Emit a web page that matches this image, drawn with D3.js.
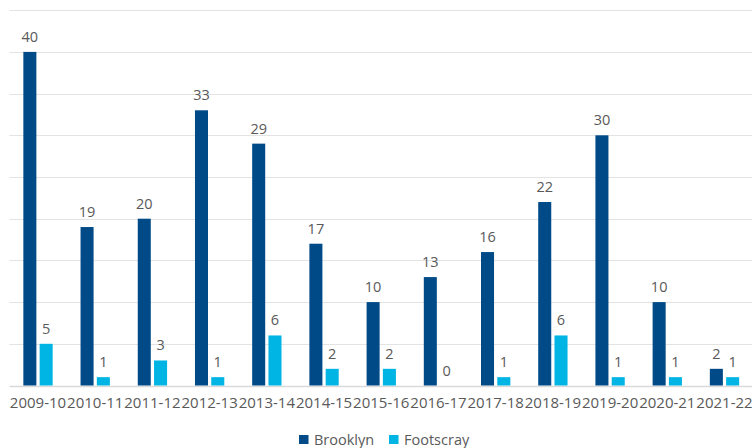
<!DOCTYPE html>
<html>
<head>
<meta charset="utf-8">
<script src="https://cdn.jsdelivr.net/npm/d3@7"></script>
<style>
    body { margin: 0; background: #fff; }
    svg text { font-family: "Open Sans", "Liberation Sans", sans-serif; fill: #595959; }
</style>
</head>
<body>
<div id="chart"></div>
<script>
// Chart data
const seasons = ['2009-10', '2010-11', '2011-12', '2012-13', '2013-14', '2014-15', '2015-16',
    '2016-17', '2017-18', '2018-19', '2019-20', '2020-21', '2021-22'];
const brooklyn = [40, 19, 20, 33, 29, 17, 10, 13, 16, 22, 30, 10, 2];
const footscray = [5, 1, 3, 1, 6, 2, 2, 0, 1, 6, 1, 1, 1];
const seriesNames = ['Brooklyn', 'Footscray'];
const colors = ['#004B87', '#00B4E4'];
const gridTicks = [0, 5, 10, 15, 20, 25, 30, 35, 40, 45];

const width = 752, height = 448;

const svg = d3.select('#chart')
    .append('svg')
    .attr('width', width)
    .attr('height', height);

const x = d3.scaleBand()
    .domain(seasons)
    .range([9.4, 753.1]);

const inner = d3.scaleBand()
    .domain(seriesNames)
    .range([0, x.bandwidth()])
    .paddingInner(0.2)
    .paddingOuter(0.856);

const y = d3.scaleLinear()
    .domain([0, 45])
    .range([385.5, 10.2]);

// Gridlines
svg.append('g')
    .selectAll('line')
    .data(gridTicks)
    .enter()
    .append('line')
    .attr('x1', 9.5)
    .attr('x2', width)
    .attr('y1', d => Math.round(y(d)) + 0.5)
    .attr('y2', d => Math.round(y(d)) + 0.5)
    .attr('stroke', d => d === 0 ? '#d9d9d9' : '#e3e3e3')
    .attr('stroke-width', d => d === 0 ? 1.5 : 1);

// Bars
const rows = seasons.map((s, i) => ({season: s, values: [brooklyn[i], footscray[i]]}));

const groups = svg.selectAll('.group')
    .data(rows)
    .enter()
    .append('g')
    .attr('class', 'group')
    .attr('transform', d => `translate(${x(d.season)},0)`);

groups.selectAll('rect')
    .data(d => d.values.map((v, j) => ({name: seriesNames[j], value: v, j})))
    .enter()
    .append('rect')
    .attr('x', d => inner(d.name))
    .attr('y', d => y(d.value))
    .attr('width', inner.bandwidth())
    .attr('height', d => y(0) - y(d.value))
    .attr('fill', d => colors[d.j]);

groups.selectAll('.label')
    .data(d => d.values.map((v, j) => ({name: seriesNames[j], value: v})))
    .enter()
    .append('text')
    .attr('class', 'label')
    .attr('x', d => inner(d.name) + inner.bandwidth() / 2)
    .attr('y', d => y(d.value) - 10)
    .attr('text-anchor', 'middle')
    .style('font-size', '14.5px')
    .text(d => d.value);

// X axis labels
svg.append('g')
    .attr('transform', `translate(0,${y(0)})`)
    .call(d3.axisBottom(x).tickSize(0).tickPadding(12))
    .call(g => g.select('.domain').remove())
    .selectAll('text')
    .style('font-size', '15px')
    .style('font-family', '"Open Sans", sans-serif')
    .attr('fill', '#595959');

// Legend
const legend = svg.append('g')
    .attr('transform', 'translate(299,435)');

const legendX = [0, 90];
seriesNames.forEach((name, i) => {
    const item = legend.append('g').attr('transform', `translate(${legendX[i]},0)`);
    item.append('rect')
        .attr('width', 9.5)
        .attr('height', 9)
        .attr('fill', colors[i]);
    item.append('text')
        .attr('x', 15)
        .attr('y', 9.5)
        .style('font-size', '14.5px')
        .text(name);
});
</script>
</body>
</html>
